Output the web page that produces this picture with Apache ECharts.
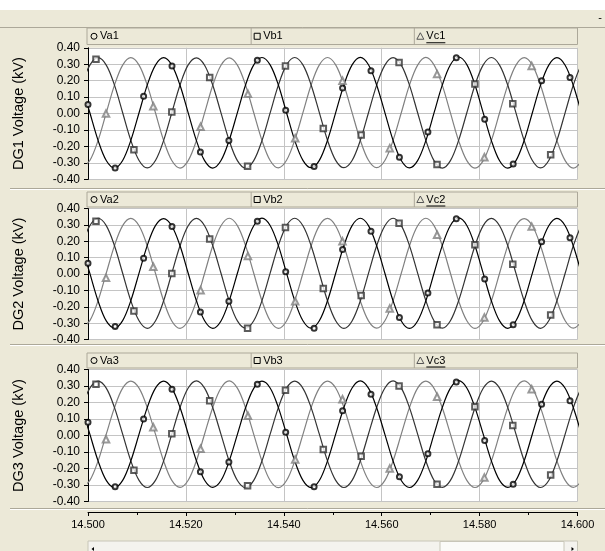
<!DOCTYPE html>
<html>
<head>
<meta charset="utf-8">
<script src="https://cdn.jsdelivr.net/npm/echarts@6/dist/echarts.min.js"></script>
<style>
html, body { margin: 0; padding: 0; background: #ECE9D8; }
#chart { width: 605px; height: 551px; }
</style>
</head>
<body>
<div id="chart"></div>
<script>
// Sample instants (s) shared by all nine voltage traces
const sampleTimes = [
  14.49871, 14.50038, 14.50206, 14.50373, 14.50541, 14.50708, 14.50875, 14.51043, 14.51210, 14.51378,
  14.51545, 14.51712, 14.51880, 14.52047, 14.52215, 14.52382, 14.52549, 14.52717, 14.52884, 14.53052,
  14.53219, 14.53386, 14.53554, 14.53721, 14.53889, 14.54056, 14.54223, 14.54391, 14.54558, 14.54726,
  14.54893, 14.55060, 14.55228, 14.55395, 14.55563, 14.55730, 14.55897, 14.56065, 14.56232, 14.56400,
  14.56567, 14.56734, 14.56902, 14.57069, 14.57237, 14.57404, 14.57571, 14.57739, 14.57906, 14.58074,
  14.58241, 14.58408, 14.58576, 14.58743, 14.58911, 14.59078, 14.59245, 14.59413, 14.59580, 14.59748,
  14.59915, 14.60082, 14.60250
];

// DG1 phase voltages (kV)
const va1 = [.173,.005,-.163,-.285,-.33,-.285,-.163,.005,.173,.295,.34,.295,
  .172,.004,-.164,-.286,-.331,-.285,-.162,.006,.174,.296,.341,.296,
  .174,.005,-.163,-.284,-.329,-.284,-.162,.006,.174,.296,.342,.297,
  .174,.006,-.162,-.285,-.33,-.286,-.164,.004,.173,.297,.344,.298,
  .174,.004,-.164,-.287,-.332,-.286,-.163,.005,.173,.295,.34,.294,
  .171,.003,-.165];
const vb1 = [.173,.295,.34,.295,.173,.005,-.163,-.285,-.33,-.285,-.163,.005,
  .174,.296,.339,.294,.172,.004,-.164,-.286,-.331,-.286,-.164,.004,
  .173,.296,.341,.296,.174,.006,-.162,-.284,-.329,-.285,-.163,.005,
  .173,.295,.34,.295,.173,.005,-.163,-.286,-.332,-.286,-.163,.005,
  .174,.296,.341,.295,.172,.004,-.164,-.285,-.33,-.285,-.163,.006,
  .174,.296,.34];
const vc1 = [-.33,-.285,-.163,.005,.173,.295,.34,.295,.173,.005,-.163,-.285,
  -.331,-.286,-.164,.004,.172,.294,.339,.295,.173,.005,-.163,-.285,
  -.33,-.284,-.162,.006,.174,.296,.341,.296,.174,.006,-.162,-.284,
  -.329,-.285,-.163,.005,.173,.295,.342,.296,.173,.004,-.164,-.286,
  -.331,-.286,-.163,.005,.173,.295,.34,.295,.172,.004,-.164,-.286,
  -.331,-.285,-.163];

// DG2 phase voltages (kV)
const va2 = [.172,.004,-.164,-.286,-.329,-.284,-.162,.006,.174,.296,.339,.294,
  .173,.005,-.163,-.285,-.331,-.286,-.163,.005,.173,.295,.342,.297,
  .174,.006,-.162,-.285,-.33,-.285,-.163,.005,.173,.296,.341,.296,
  .173,.005,-.163,-.286,-.332,-.286,-.163,.005,.174,.297,.343,.297,
  .173,.004,-.164,-.286,-.331,-.285,-.162,.006,.174,.295,.34,.295,
  .172,.004,-.164];
const vb2 = [.174,.296,.341,.296,.173,.005,-.163,-.285,-.331,-.286,-.163,.005,
  .173,.295,.34,.295,.173,.005,-.164,-.286,-.33,-.285,-.162,.006,
  .174,.296,.341,.295,.173,.005,-.163,-.285,-.332,-.286,-.164,.004,
  .173,.295,.341,.296,.174,.006,-.162,-.285,-.33,-.285,-.163,.005,
  .173,.296,.34,.295,.173,.004,-.164,-.286,-.331,-.285,-.163,.005,
  .173,.295,.34];
const vc2 = [-.329,-.284,-.162,.006,.174,.296,.34,.295,.173,.005,-.163,-.286,
  -.331,-.285,-.163,.005,.173,.295,.341,.296,.174,.005,-.163,-.285,
  -.331,-.286,-.163,.005,.173,.296,.34,.294,.172,.004,-.164,-.286,
  -.33,-.285,-.163,.005,.173,.295,.341,.296,.173,.005,-.163,-.285,
  -.332,-.286,-.163,.005,.174,.296,.339,.295,.173,.005,-.163,-.285,
  -.33,-.285,-.163];

// DG3 phase voltages (kV)
const va3 = [.169,.008,-.154,-.272,-.315,-.272,-.154,.008,.169,.287,.33,.287,
  .170,.009,-.153,-.271,-.314,-.273,-.155,.007,.168,.286,.329,.288,
  .169,.008,-.154,-.272,-.316,-.273,-.154,.008,.17,.288,.331,.287,
  .168,.007,-.155,-.273,-.315,-.272,-.154,.008,.169,.287,.332,.288,
  .169,.008,-.154,-.272,-.314,-.271,-.153,.009,.17,.287,.33,.286,
  .168,.007,-.155];
const vb3 = [.169,.287,.33,.287,.169,.008,-.154,-.272,-.315,-.272,-.154,.008,
  .17,.288,.331,.287,.168,.007,-.155,-.273,-.316,-.272,-.154,.008,
  .169,.287,.329,.286,.169,.008,-.154,-.272,-.315,-.272,-.153,.009,
  .17,.288,.331,.287,.169,.008,-.154,-.271,-.314,-.272,-.155,.007,
  .168,.286,.33,.287,.169,.008,-.154,-.272,-.315,-.273,-.154,.008,
  .169,.287,.33];
const vc3 = [-.315,-.272,-.154,.008,.169,.287,.33,.287,.169,.008,-.154,-.272,
  -.314,-.271,-.153,.009,.17,.288,.331,.287,.168,.007,-.155,-.273,
  -.316,-.273,-.155,.007,.169,.287,.33,.288,.17,.009,-.153,-.271,
  -.315,-.272,-.154,.008,.169,.287,.329,.286,.168,.008,-.154,-.272,
  -.315,-.272,-.154,.008,.169,.288,.331,.287,.169,.008,-.154,-.272,
  -.314,-.272,-.154];

// Trace markers: instants (s) and voltages (kV)
const markTimesA = [14.5000,14.50554,14.51136,14.51716,14.52296,14.52878,14.53459,14.54039,14.54619,
  14.55201,14.55781,14.56362,14.56944,14.57524,14.58104,14.58686,14.59267,14.59847];
const markTimesB = [14.50163,14.50938,14.51712,14.52486,14.53260,14.54034,14.54807,14.55581,14.56355,
  14.57130,14.57904,14.58678,14.59452];
const markTimesC = [14.50368,14.51334,14.52300,14.53267,14.54233,14.55199,14.56165,14.57132,14.58098,14.59064];

const markA1 = [.055,-.33,.105,.29,-.233,-.163,.324,.02,-.322,.155,.26,-.266,-.112,.34,-.034,-.306,.20,.22];
const markB1 = [.33,-.22,.01,.22,-.32,.29,-.09,-.13,.31,-.31,.18,.06,-.25];
const markC1 = [0,.045,-.08,.12,-.15,.20,-.21,.24,-.265,.29];
const markA2 = [.066,-.32,.097,.291,-.232,-.166,.322,.014,-.33,.15,.262,-.265,-.115,.338,-.03,-.31,.198,.222];
const markB2 = [.322,-.226,.004,.215,-.33,.285,-.088,-.13,.31,-.31,.18,.06,-.25];
const markC2 = [-.023,.045,-.098,.11,-.166,.20,-.21,.24,-.265,.29];
const markA3 = [.08,-.31,.10,.28,-.22,-.16,.31,.02,-.31,.15,.25,-.25,-.11,.325,-.03,-.295,.19,.21];
const markB3 = [.31,-.21,.01,.21,-.305,.275,-.085,-.125,.30,-.295,.175,.06,-.24];
const markC3 = [-.023,.05,-.08,.12,-.145,.22,-.20,.235,-.255,.28];

// Axis ranges and labels
const timeRange = [14.5, 14.6];
const timeStep = 0.02;
const voltRange = [-0.4, 0.4];
const voltStep = 0.1;
const panelTitles = ['DG1 Voltage (kV)', 'DG2 Voltage (kV)', 'DG3 Voltage (kV)'];
const traceNames = [['Va1', 'Vb1', 'Vc1'], ['Va2', 'Vb2', 'Vc2'], ['Va3', 'Vb3', 'Vc3']];

const traces = [[va1, vb1, vc1], [va2, vb2, vc2], [va3, vb3, vc3]];
const marks = [[markA1, markB1, markC1], [markA2, markB2, markC2], [markA3, markB3, markC3]];
const markTimes = [markTimesA, markTimesB, markTimesC];

// Styling
const FONT = 'Liberation Sans, Arial, sans-serif';
const BG = '#ECE9D8';
const phaseColors = ['#000000', '#333333', '#808080'];
const markSymbols = ['emptyCircle', 'emptyRect', 'emptyTriangle'];
const markSizes = [5, 5.5, 6.5];
const GRID_COLOR = '#c4c4c4';

// Plot rectangles (px)
const plotLeft = 88, plotRight = 577.5;
const panels = [
  { top: 47.8, height: 131.6, strip: [28, 44.5] },
  { top: 208.6, height: 131, strip: [192, 207] },
  { top: 369.5, height: 132, strip: [353, 368] }
];

const chart = echarts.init(document.getElementById('chart'), null, { renderer: 'canvas' });

const grids = panels.map(p => ({
  left: plotLeft, width: plotRight - plotLeft, top: p.top, height: p.height,
  show: true, backgroundColor: '#ffffff', borderWidth: 0
}));

const xAxes = panels.map((p, i) => {
  const last = i === panels.length - 1;
  return {
    type: 'value', gridIndex: i, min: timeRange[0], max: timeRange[1], interval: timeStep,
    position: 'bottom', offset: last ? 10.5 : 0,
    axisLine: { show: last, onZero: false, lineStyle: { color: '#000', width: 1 } },
    axisTick: { show: last, length: 4, lineStyle: { color: '#000' } },
    minorTick: { show: last, splitNumber: 2, length: 3, lineStyle: { color: '#000' } },
    axisLabel: {
      show: last, margin: 7, color: '#000', fontFamily: FONT, fontSize: 11,
      formatter: v => v.toFixed(3)
    },
    splitLine: { show: true, lineStyle: { color: GRID_COLOR, width: 1 } }
  };
});

const yAxes = panels.map((p, i) => ({
  type: 'value', gridIndex: i, min: voltRange[0], max: voltRange[1], interval: voltStep,
  name: panelTitles[i], nameLocation: 'middle', nameGap: 62, nameRotate: 90,
  nameTextStyle: { color: '#000', fontFamily: FONT, fontSize: 14.5 },
  axisLine: { show: true, onZero: false, lineStyle: { color: '#000', width: 1 } },
  axisTick: { show: true, length: 4, lineStyle: { color: '#000' } },
  axisLabel: {
    margin: 8, color: '#000', fontFamily: FONT, fontSize: 12,
    formatter: v => v.toFixed(2)
  },
  splitLine: { show: true, lineStyle: { color: GRID_COLOR, width: 1 } }
}));

const series = [];
traces.forEach((set, p) => {
  set.forEach((vals, ph) => {
    series.push({
      type: 'line', name: traceNames[p][ph], xAxisIndex: p, yAxisIndex: p,
      data: sampleTimes.map((t, k) => [t, vals[k]]),
      smooth: 0.34, symbol: 'none', clip: true, animation: false,
      lineStyle: { color: phaseColors[ph], width: 1.2 }, z: 3 + (2 - ph)
    });
  });
  marks[p].forEach((vals, ph) => {
    series.push({
      type: 'scatter', xAxisIndex: p, yAxisIndex: p,
      data: markTimes[ph].map((t, k) => [t, vals[k]]),
      symbol: markSymbols[ph], symbolSize: markSizes[ph], clip: false, animation: false,
      itemStyle: { color: phaseColors[ph], borderWidth: 0.8 }, z: 10
    });
  });
});

// Window chrome: header band, legend strips, panel dividers, scroll bar
const graphics = [];
graphics.push({ type: 'rect', shape: { x: 0, y: 0, width: 605, height: 10 }, style: { fill: '#ffffff' }, silent: true, z: -10 });
graphics.push({ type: 'line', shape: { x1: 0, y1: 27.5, x2: 605, y2: 27.5 }, style: { stroke: '#aca899', lineWidth: 1 }, silent: true });
graphics.push({ type: 'text', style: { x: 600, y: 18, text: '-', fill: '#000', font: '11px ' + FONT, align: 'center', verticalAlign: 'middle' }, silent: true });

const stripW = (plotRight - plotLeft) / 3;
const legendShapes = [
  (cx, cy) => ({ type: 'circle', shape: { cx, cy, r: 3 }, style: { fill: 'none', stroke: '#000', lineWidth: 1 } }),
  (cx, cy) => ({ type: 'rect', shape: { x: cx - 3, y: cy - 3, width: 6, height: 6 }, style: { fill: 'none', stroke: '#000', lineWidth: 1 } }),
  (cx, cy) => ({ type: 'polygon', shape: { points: [[cx, cy - 3.5], [cx + 3.5, cy + 3], [cx - 3.5, cy + 3]] }, style: { fill: 'none', stroke: '#555', lineWidth: 1 } })
];
panels.forEach((p, i) => {
  const [y0, y1] = p.strip;
  const cy = (y0 + y1) / 2;
  graphics.push({ type: 'rect', shape: { x: plotLeft - 1, y: y0, width: plotRight - plotLeft + 1, height: y1 - y0 },
    style: { fill: BG, stroke: '#aca899', lineWidth: 1 }, silent: true });
  for (let j = 0; j < 3; j++) {
    const x0 = plotLeft + j * stripW;
    if (j > 0) {
      graphics.push({ type: 'line', shape: { x1: x0, y1: y0, x2: x0, y2: y1 }, style: { stroke: '#aca899', lineWidth: 1 }, silent: true });
    }
    const sym = legendShapes[j](x0 + 6, cy);
    sym.silent = true;
    graphics.push(sym);
    graphics.push({ type: 'text', style: { x: x0 + 12, y: cy, text: traceNames[i][j], fill: '#000',
      font: '11px ' + FONT, verticalAlign: 'middle' }, silent: true });
    if (j === 2) {
      graphics.push({ type: 'line', shape: { x1: x0 + 12, y1: cy + 6.5, x2: x0 + 31, y2: cy + 6.5 },
        style: { stroke: '#000', lineWidth: 1 }, silent: true });
    }
  }
});
[188.5, 344.5, 508.5].forEach(y => {
  graphics.push({ type: 'line', shape: { x1: 10, y1: y, x2: 605, y2: y }, style: { stroke: '#aca899', lineWidth: 1 }, silent: true });
  graphics.push({ type: 'line', shape: { x1: 10, y1: y + 1, x2: 605, y2: y + 1 }, style: { stroke: '#ffffff', lineWidth: 1 }, silent: true });
});
// scroll bar
graphics.push({ type: 'rect', shape: { x: plotLeft, y: 541, width: plotRight - plotLeft, height: 12 }, style: { fill: '#f4f3ee', stroke: '#c8c6b8', lineWidth: 1 }, silent: true });
graphics.push({ type: 'rect', shape: { x: plotLeft + 352, y: 541.5, width: 124, height: 11 }, style: { fill: '#fbfbf8', stroke: '#c8c6b8', lineWidth: 1 }, silent: true });
graphics.push({ type: 'polygon', shape: { points: [[plotLeft + 6, 547], [plotLeft + 3.5, 549], [plotLeft + 6, 551]] }, style: { fill: '#000' }, silent: true });
graphics.push({ type: 'polygon', shape: { points: [[plotRight - 6, 547], [plotRight - 3.5, 549], [plotRight - 6, 551]] }, style: { fill: '#000' }, silent: true });

chart.setOption({
  backgroundColor: BG,
  animation: false,
  grid: grids,
  xAxis: xAxes,
  yAxis: yAxes,
  series: series,
  graphic: graphics
});
</script>
</body>
</html>
